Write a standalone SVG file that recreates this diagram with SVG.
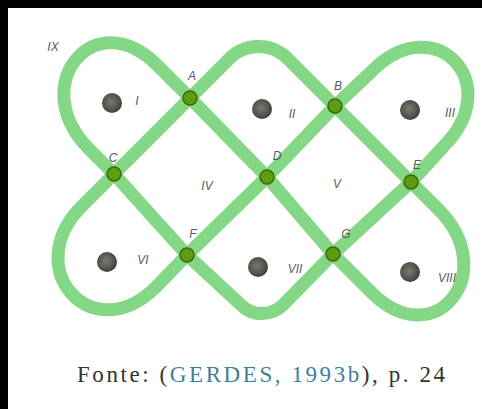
<svg xmlns="http://www.w3.org/2000/svg" width="482" height="409" viewBox="0 0 482 409">
<defs>
<radialGradient id="peb" cx="45%" cy="45%" r="55%">
<stop offset="0" stop-color="#7a7a72"/>
<stop offset="0.7" stop-color="#55554f"/>
<stop offset="1" stop-color="#3e3e3a"/>
</radialGradient>
<style>
.band{fill:none;stroke:#84d784;stroke-width:13;stroke-linejoin:round}
.pt{fill:#5e9c12;stroke:#3b6a08;stroke-width:1.5}
.peb{fill:url(#peb)}
.lbl{font-family:"Liberation Sans",Arial,sans-serif;font-size:12px;font-style:italic;fill:#5a5a5a;text-anchor:middle}
.cap{font-family:"Liberation Serif","Times New Roman",serif;font-size:23px;fill:#333}
</style>
</defs>
<rect x="0" y="0" width="482" height="409" fill="#000"/>
<rect x="8" y="8" width="474" height="401" fill="#fff"/>
<g id="connectors">
<path class="band" d="M190,98 L267,177 L333,254 L371.5,292.5 C434.5,355.5 501.5,272.5 438.5,209.5 L411,182 L335,106 L287.5,58.5 A41,41 0 0 0 229.5,58.5 L190,98 L114,174 L82,206 C19,269 93,350 156,287 L187,255 L267,177 L335,106 L372,71 C435,8 506.5,83.5 443.5,146.5 L411,182 L333,254 L283.2,304.8 A30,30 0 0 1 240.8,304.8 L187,255 L114,174 L89,149 C26,86 94,2 157,65 Z"/>
</g>
<g id="pebbles">
<circle class="peb" cx="112" cy="103" r="10"/>
<circle class="peb" cx="262" cy="109" r="10"/>
<circle class="peb" cx="410" cy="110" r="10"/>
<circle class="peb" cx="107" cy="262" r="10"/>
<circle class="peb" cx="258" cy="267" r="10"/>
<circle class="peb" cx="410" cy="272" r="10"/>
</g>
<g id="nodeA"><circle class="pt" cx="190" cy="98" r="7"/><text class="lbl" x="192" y="80">A</text></g>
<g id="nodeB"><circle class="pt" cx="335" cy="106" r="7"/><text class="lbl" x="338" y="90">B</text></g>
<g id="nodeC"><circle class="pt" cx="114" cy="174" r="7"/><text class="lbl" x="113" y="162">C</text></g>
<g id="nodeD"><circle class="pt" cx="267" cy="177" r="7"/><text class="lbl" x="277" y="160">D</text></g>
<g id="nodeE"><circle class="pt" cx="411" cy="182" r="7"/><text class="lbl" x="417" y="169">E</text></g>
<g id="nodeF"><circle class="pt" cx="187" cy="255" r="7"/><text class="lbl" x="193" y="238">F</text></g>
<g id="nodeG"><circle class="pt" cx="333" cy="254" r="7"/><text class="lbl" x="346" y="238">G</text></g>
<g id="regions">
<text class="lbl" x="53" y="51">IX</text>
<text class="lbl" x="137" y="105">I</text>
<text class="lbl" x="292" y="118">II</text>
<text class="lbl" x="450" y="117">III</text>
<text class="lbl" x="207" y="190">IV</text>
<text class="lbl" x="337" y="188">V</text>
<text class="lbl" x="143" y="264">VI</text>
<text class="lbl" x="295" y="273">VII</text>
<text class="lbl" x="447" y="282">VIII</text>
</g>
<text class="cap" x="77" y="382" textLength="368" lengthAdjust="spacing">Fonte: (<tspan fill="#3f7f9c">GERDES, 1993b</tspan>), p. 24</text>
</svg>
